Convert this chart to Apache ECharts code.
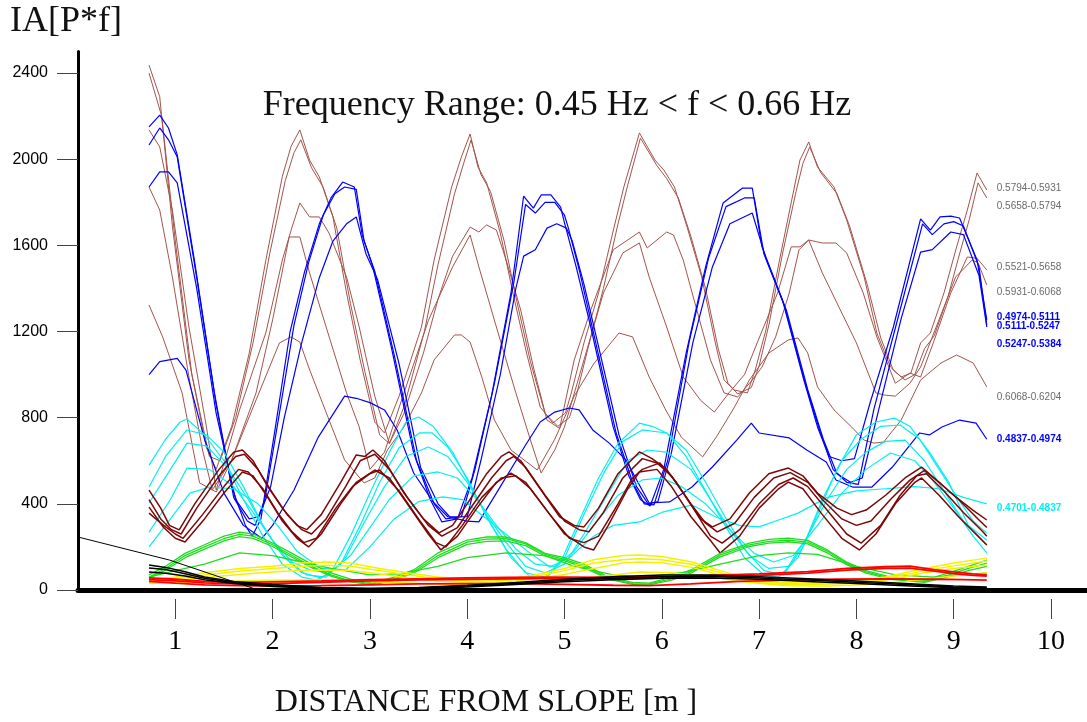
<!DOCTYPE html>
<html><head><meta charset="utf-8">
<script src="https://cdn.jsdelivr.net/npm/echarts@6/dist/echarts.min.js"></script>
<style>html,body{margin:0;padding:0;background:#fff}#c{width:1087px;height:722px}</style>
</head><body><div id="c"></div>
<script>
// ---- tick labels ----
const xTicks=[1,2,3,4,5,6,7,8,9,10];
const yTicks=[0,400,800,1200,1600,2000,2400];
// ---- series names ----
const brownNames=['0.5794-0.5931','0.5658-0.5794','0.5521-0.5658','0.5931-0.6068','0.6068-0.6204'];
const blueNames=['0.4974-0.5111','0.5111-0.5247','0.5247-0.5384','0.4837-0.4974'];
const cyanLabelName='0.4701-0.4837';
// ---- brown series [distance m, IA] ----
const brownA=[[0.73,2437],[0.84,2290],[0.97,1690],[1.14,1070],[1.32,660],[1.42,560],[1.58,760],[1.76,1100],[1.93,1530],[2.10,1920],[2.19,2060],[2.28,2136],[2.38,1996],[2.48,1918],[2.62,1732],[2.76,1379],[2.90,1068],[3.05,780],[3.15,729],[3.30,900],[3.53,1221],[3.66,1532],[3.84,1871],[3.94,2010],[4.03,2117],[4.11,1964],[4.2,1890],[4.34,1657],[4.47,1379],[4.61,1100],[4.75,850],[4.88,775],[5.01,822],[5.07,915],[5.2,1147],[5.35,1379],[5.51,1685],[5.61,1871],[5.72,2043],[5.77,2122],[5.93,1996],[6.02,1950],[6.13,1871],[6.26,1685],[6.41,1453],[6.55,1147],[6.64,975],[6.74,929],[6.88,915],[6.96,1021],[7.07,1207],[7.21,1532],[7.35,1843],[7.42,1996],[7.51,2080],[7.6,1964],[7.77,1871],[7.9,1718],[8.08,1453],[8.21,1193],[8.35,1035],[8.46,989],[8.56,1007],[8.66,1147],[8.76,1193],[8.90,1379],[9.03,1593],[9.14,1764],[9.24,1936],[9.34,1857]];
const brownB=[[0.73,2400],[0.86,2200],[1.0,1620],[1.17,1000],[1.35,620],[1.46,600],[1.62,800],[1.8,1150],[1.97,1560],[2.13,1900],[2.22,2030],[2.29,2090],[2.4,1960],[2.52,1870],[2.66,1680],[2.8,1330],[2.95,1010],[3.1,720],[3.2,680],[3.35,850],[3.56,1200],[3.7,1510],[3.87,1840],[3.97,1990],[4.04,2089],[4.14,1930],[4.24,1850],[4.38,1620],[4.51,1340],[4.65,1060],[4.8,820],[4.93,760],[5.05,800],[5.12,900],[5.24,1120],[5.4,1400],[5.55,1700],[5.65,1880],[5.74,2030],[5.78,2098],[5.95,1970],[6.05,1910],[6.17,1820],[6.3,1640],[6.45,1400],[6.58,1120],[6.68,960],[6.78,910],[6.92,940],[7.0,1040],[7.1,1230],[7.24,1560],[7.38,1850],[7.45,1980],[7.52,2057],[7.63,1940],[7.8,1840],[7.93,1690],[8.11,1420],[8.25,1170],[8.38,1020],[8.5,975],[8.6,1000],[8.7,1120],[8.8,1180],[8.94,1360],[9.06,1560],[9.16,1720],[9.25,1890],[9.34,1820]];
const brownC=[[0.73,2136],[0.84,2057],[0.97,1764],[1.14,1221],[1.32,757],[1.42,464],[1.66,836],[1.93,1193],[2.1,1532],[2.2,1685],[2.28,1797],[2.38,1732],[2.48,1732],[2.58,1657],[2.76,1453],[2.89,1221],[3.05,900],[3.2,680],[3.35,820],[3.55,1100],[3.7,1350],[3.85,1550],[4.03,1685],[4.12,1662],[4.2,1695],[4.3,1671],[4.4,1532],[4.55,1300],[4.68,1035],[4.82,789],[4.95,750],[5.1,1068],[5.27,1300],[5.5,1579],[5.77,1662],[5.85,1588],[6.05,1662],[6.12,1648],[6.22,1532],[6.36,1300],[6.5,1068],[6.64,915],[6.78,896],[6.93,975],[7.03,1035],[7.17,1175],[7.31,1379],[7.41,1579],[7.51,1625],[7.65,1611],[7.79,1611],[7.9,1565],[8.07,1379],[8.21,1175],[8.4,960],[8.55,1007],[8.66,989],[8.79,1147],[8.97,1379],[9.14,1546],[9.24,1540],[9.34,1486]];
const brownD=[[0.73,1871],[0.84,1764],[0.97,1453],[1.14,989],[1.28,650],[1.38,464],[1.58,604],[1.83,915],[2.0,1254],[2.17,1639],[2.28,1639],[2.38,1472],[2.55,1221],[2.76,915],[2.89,757],[3.0,560],[3.15,640],[3.35,915],[3.6,1250],[3.85,1500],[4.03,1648],[4.12,1500],[4.3,1221],[4.5,915],[4.66,682],[4.76,543],[4.9,650],[5.0,757],[5.2,1068],[5.4,1379],[5.6,1565],[5.77,1611],[5.87,1453],[6.05,1221],[6.22,989],[6.4,880],[6.54,826],[6.69,915],[6.85,1000],[6.98,1147],[7.19,1379],[7.33,1593],[7.42,1593],[7.51,1625],[7.65,1472],[7.82,1314],[8.0,1147],[8.2,915],[8.29,905],[8.4,900],[8.55,960],[8.66,1035],[8.82,1221],[9.02,1453],[9.19,1532],[9.25,1520],[9.34,1416]];
const brownE=[[0.73,1323],[0.87,1175],[1.07,915],[1.25,497],[1.42,455],[1.58,604],[1.83,882],[2.07,1147],[2.19,1175],[2.28,1151],[2.37,1035],[2.54,836],[2.74,604],[2.94,497],[3.05,520],[3.18,650],[3.35,757],[3.53,915],[3.66,1068],[3.87,1184],[3.94,1184],[4.03,1151],[4.15,989],[4.28,789],[4.45,650],[4.72,557],[4.9,700],[5.1,900],[5.3,1050],[5.56,1193],[5.7,1175],[5.87,989],[6.04,836],[6.2,710],[6.42,618],[6.56,710],[6.73,836],[6.9,975],[7.1,1100],[7.3,1161],[7.4,1170],[7.5,1100],[7.6,943],[7.77,836],[7.95,757],[8.08,696],[8.18,682],[8.28,687],[8.46,789],[8.66,975],[8.87,1054],[9.03,1091],[9.2,1054],[9.34,943]];
// ---- blue series ----
const blue1=[[0.73,2150],[0.84,2205],[0.93,2145],[1.02,2020],[1.2,1520],[1.4,920],[1.58,480],[1.72,300],[1.79,250],[1.88,330],[2.03,760],[2.18,1200],[2.33,1480],[2.48,1700],[2.6,1820],[2.72,1894],[2.84,1871],[2.92,1650],[3.03,1500],[3.22,1128],[3.45,636],[3.62,420],[3.74,316],[3.9,330],[4.05,520],[4.25,900],[4.45,1379],[4.58,1829],[4.68,1773],[4.76,1834],[4.86,1834],[4.96,1778],[5.0,1704],[5.12,1500],[5.27,1221],[5.5,757],[5.66,530],[5.78,420],[5.88,390],[6.02,560],[6.25,1100],[6.45,1500],[6.63,1797],[6.83,1866],[6.93,1866],[7.03,1593],[7.24,1346],[7.46,975],[7.6,757],[7.72,620],[7.85,600],[7.98,610],[8.14,868],[8.38,1221],[8.66,1723],[8.76,1671],[8.86,1732],[8.97,1736],[9.06,1727],[9.24,1532],[9.34,1254]];
const blue2=[[0.73,2066],[0.84,2145],[0.93,2090],[1.02,2010],[1.22,1450],[1.42,860],[1.6,430],[1.74,320],[1.82,300],[1.92,420],[2.07,820],[2.22,1230],[2.37,1520],[2.52,1740],[2.64,1840],[2.74,1871],[2.86,1860],[2.94,1620],[3.05,1480],[3.25,1090],[3.48,600],[3.66,400],[3.78,330],[3.94,340],[4.08,560],[4.28,960],[4.48,1430],[4.6,1790],[4.7,1750],[4.8,1800],[4.9,1800],[5.0,1740],[5.04,1680],[5.16,1470],[5.3,1190],[5.53,730],[5.7,500],[5.82,400],[5.92,395],[6.06,600],[6.28,1150],[6.48,1540],[6.66,1780],[6.85,1820],[6.95,1820],[7.05,1560],[7.26,1320],[7.48,950],[7.63,730],[7.76,560],[7.9,500],[8.02,490],[8.18,840],[8.42,1250],[8.68,1700],[8.78,1650],[8.9,1700],[9.0,1710],[9.1,1690],[9.26,1500],[9.34,1230]];
const blue3=[[0.73,1871],[0.84,1941],[0.93,1941],[1.02,1890],[1.22,1400],[1.42,820],[1.62,420],[1.76,330],[1.86,340],[1.98,480],[2.12,800],[2.3,1150],[2.48,1450],[2.62,1620],[2.76,1700],[2.86,1732],[2.96,1560],[3.08,1440],[3.3,1050],[3.52,570],[3.7,400],[3.82,340],[4.0,340],[4.14,600],[4.34,1000],[4.5,1400],[4.58,1550],[4.7,1580],[4.82,1680],[4.92,1700],[5.02,1680],[5.08,1620],[5.2,1420],[5.34,1150],[5.56,720],[5.74,480],[5.86,400],[5.96,410],[6.1,640],[6.32,1150],[6.52,1500],[6.7,1700],[6.93,1750],[7.07,1540],[7.28,1300],[7.5,930],[7.66,700],[7.8,540],[7.94,500],[8.06,520],[8.22,820],[8.46,1260],[8.66,1569],[8.78,1580],[8.97,1662],[9.1,1650],[9.26,1460],[9.34,1221]];
const blue4=[[0.73,1000],[0.84,1060],[1.02,1075],[1.11,1021],[1.3,700],[1.5,450],[1.7,300],[1.89,240],[2.0,300],[2.22,464],[2.47,710],[2.74,900],[2.86,890],[3.0,870],[3.15,836],[3.28,743],[3.45,543],[3.65,409],[3.8,340],[4.0,320],[4.12,316],[4.3,450],[4.6,673],[4.75,780],[4.9,826],[5.05,845],[5.15,836],[5.29,743],[5.46,682],[5.63,604],[5.87,404],[6.08,409],[6.31,478],[6.52,571],[6.77,696],[6.92,775],[7.0,729],[7.31,706],[7.49,650],[7.69,594],[7.79,511],[7.96,478],[8.16,478],[8.37,571],[8.65,729],[8.75,720],[8.88,757],[9.06,789],[9.23,775],[9.34,700]];
// ---- cyan series ----
const cyanA=[[0.73,580],[0.9,700],[1.05,780],[1.12,794],[1.3,720],[1.5,600],[1.7,420],[1.9,250],[2.1,120],[2.3,60],[2.45,46],[2.6,80],[2.8,250],[3.0,450],[3.2,640],[3.37,780],[3.5,803],[3.65,760],[3.85,640],[4.05,470],[4.25,300],[4.45,150],[4.65,60],[4.8,50],[4.95,120],[5.15,320],[5.35,520],[5.55,680],[5.77,775],[5.9,760],[6.05,729],[6.25,620],[6.45,460],[6.65,300],[6.85,150],[7.05,70],[7.2,60],[7.4,150],[7.6,350],[7.8,560],[8.0,720],[8.2,780],[8.39,798],[8.55,760],[8.75,640],[8.95,500],[9.15,300],[9.34,232]];
const cyanB=[[0.73,478],[0.9,620],[1.12,743],[1.32,720],[1.5,640],[1.7,480],[1.9,300],[2.1,160],[2.3,80],[2.5,56],[2.7,120],[2.9,300],[3.1,500],[3.3,660],[3.51,729],[3.64,729],[3.8,664],[4.0,520],[4.2,340],[4.4,190],[4.6,80],[4.8,60],[5.0,150],[5.2,350],[5.4,540],[5.6,690],[5.8,743],[6.05,729],[6.25,650],[6.45,500],[6.65,340],[6.85,190],[7.05,90],[7.25,70],[7.45,200],[7.65,420],[7.85,600],[8.05,700],[8.25,760],[8.45,766],[8.65,700],[8.85,560],[9.05,420],[9.2,320],[9.34,264]];
const cyanC=[[0.73,404],[0.95,560],[1.12,682],[1.32,669],[1.55,560],[1.75,420],[1.95,260],[2.15,140],[2.35,70],[2.55,60],[2.75,150],[2.95,320],[3.15,480],[3.37,620],[3.6,664],[3.8,620],[4.0,500],[4.2,350],[4.4,220],[4.6,110],[4.8,80],[5.0,120],[5.2,260],[5.45,450],[5.65,600],[5.85,650],[6.05,640],[6.3,560],[6.5,420],[6.7,280],[6.9,160],[7.1,100],[7.3,110],[7.5,250],[7.7,420],[7.9,560],[8.1,640],[8.3,690],[8.5,696],[8.7,600],[8.9,460],[9.1,320],[9.34,209]];
const cyanD=[[0.73,269],[0.95,420],[1.12,566],[1.35,560],[1.6,480],[1.8,360],[2.0,230],[2.2,130],[2.4,90],[2.6,84],[2.8,160],[3.0,290],[3.2,420],[3.45,530],[3.7,548],[3.9,520],[4.1,420],[4.3,300],[4.5,190],[4.7,120],[4.9,110],[5.1,180],[5.3,300],[5.55,440],[5.8,511],[6.0,520],[6.2,480],[6.45,400],[6.7,280],[6.95,170],[7.15,130],[7.35,160],[7.6,300],[7.85,450],[8.1,560],[8.35,636],[8.6,600],[8.8,500],[9.0,380],[9.2,250],[9.34,172]];
const cyanE=[[0.73,200],[0.95,330],[1.15,450],[1.35,478],[1.6,470],[1.85,400],[2.05,300],[2.25,180],[2.5,100],[2.75,93],[3.0,200],[3.25,330],[3.5,410],[3.75,432],[3.95,420],[4.2,330],[4.45,240],[4.65,170],[4.85,107],[5.05,150],[5.3,250],[5.5,300],[5.77,316],[6.0,360],[6.31,395],[6.55,340],[6.8,300],[7.0,293],[7.2,325],[7.4,357],[7.7,430],[8.0,460],[8.3,470],[8.6,480],[8.85,470],[9.1,430],[9.34,400]];
// ---- maroon series ----
const maroon1=[[0.73,464],[0.85,380],[0.94,300],[1.04,279],[1.2,400],[1.45,560],[1.6,640],[1.69,650],[1.8,600],[1.95,480],[2.1,380],[2.25,300],[2.35,280],[2.5,350],[2.7,500],[2.86,627],[2.95,620],[3.03,650],[3.15,600],[3.35,450],[3.55,330],[3.71,265],[3.85,300],[4.0,400],[4.2,540],[4.35,620],[4.43,641],[4.55,600],[4.75,470],[4.95,340],[5.1,300],[5.2,293],[5.35,380],[5.55,540],[5.77,641],[5.9,610],[6.05,560],[6.25,430],[6.4,330],[6.52,293],[6.7,330],[6.9,450],[7.1,540],[7.3,566],[7.45,530],[7.6,450],[7.8,380],[7.95,350],[8.1,371],[8.3,440],[8.5,520],[8.67,571],[8.8,520],[9.0,440],[9.2,370],[9.34,325]];
const maroon2=[[0.73,420],[0.85,330],[0.96,280],[1.06,260],[1.22,380],[1.45,530],[1.62,620],[1.71,630],[1.85,560],[2.0,450],[2.15,350],[2.3,280],[2.4,260],[2.55,330],[2.75,480],[2.9,600],[3.05,630],[3.2,560],[3.4,420],[3.6,300],[3.74,250],[3.9,290],[4.05,390],[4.25,520],[4.4,600],[4.48,620],[4.6,570],[4.8,440],[5.0,320],[5.15,280],[5.25,270],[5.4,360],[5.6,520],[5.8,610],[5.95,590],[6.1,530],[6.3,400],[6.45,310],[6.57,270],[6.75,310],[6.95,430],[7.15,520],[7.32,545],[7.5,500],[7.65,420],[7.85,330],[8.0,300],[8.15,320],[8.35,420],[8.55,510],[8.7,555],[8.85,500],[9.05,420],[9.25,330],[9.34,290]];
const maroon3=[[0.73,385],[0.88,290],[1.0,240],[1.1,223],[1.3,330],[1.5,450],[1.69,548],[1.8,530],[1.95,430],[2.1,320],[2.25,240],[2.37,200],[2.5,260],[2.7,400],[2.86,500],[3.05,557],[3.2,520],[3.4,390],[3.6,260],[3.73,186],[3.9,250],[4.1,380],[4.3,500],[4.45,543],[4.6,500],[4.8,380],[5.0,260],[5.2,200],[5.3,186],[5.45,300],[5.65,470],[5.77,548],[5.95,560],[6.1,480],[6.3,340],[6.5,230],[6.6,172],[6.8,250],[7.0,380],[7.2,470],[7.3,501],[7.45,470],[7.65,350],[7.85,240],[8.03,186],[8.2,260],[8.4,400],[8.6,500],[8.67,520],[8.85,440],[9.05,340],[9.25,250],[9.34,209]];
const maroon4=[[0.73,357],[0.88,300],[1.0,260],[1.08,240],[1.28,350],[1.5,480],[1.65,560],[1.75,548],[1.9,470],[2.05,360],[2.2,270],[2.32,220],[2.45,240],[2.65,380],[2.82,480],[3.0,540],[3.1,557],[3.3,460],[3.5,330],[3.68,220],[3.78,200],[3.95,300],[4.15,430],[4.35,520],[4.5,530],[4.65,470],[4.85,350],[5.05,240],[5.2,220],[5.35,250],[5.55,400],[5.7,520],[5.8,560],[5.98,590],[6.15,500],[6.35,360],[6.5,250],[6.62,218],[6.8,280],[7.0,400],[7.2,490],[7.35,520],[7.5,480],[7.7,370],[7.9,260],[8.05,218],[8.25,300],[8.45,440],[8.62,530],[8.72,540],[8.9,460],[9.1,360],[9.3,270],[9.34,250]];
// ---- green series ----
const green1=[[0.73,70],[0.9,110],[1.1,170],[1.3,210],[1.5,250],[1.66,269],[1.8,260],[2.0,218],[2.2,170],[2.4,120],[2.6,80],[2.8,50],[3.03,32],[3.25,60],[3.45,93],[3.7,172],[4.0,232],[4.2,246],[4.4,246],[4.6,220],[4.8,170],[5.0,150],[5.2,120],[5.45,60],[5.7,35],[5.87,32],[6.1,60],[6.3,93],[6.6,170],[6.9,218],[7.1,235],[7.3,241],[7.5,230],[7.7,186],[7.9,130],[8.1,90],[8.35,60],[8.7,46],[8.95,80],[9.15,110],[9.34,139]];
const green2=[[0.73,60],[0.9,100],[1.1,160],[1.3,200],[1.5,238],[1.66,258],[1.8,250],[2.0,210],[2.2,160],[2.4,110],[2.6,70],[2.8,42],[3.03,28],[3.25,52],[3.45,85],[3.7,160],[4.0,222],[4.2,236],[4.4,238],[4.6,214],[4.8,165],[5.0,142],[5.2,112],[5.45,55],[5.7,30],[5.87,28],[6.1,52],[6.3,85],[6.6,162],[6.9,210],[7.1,226],[7.3,232],[7.5,222],[7.7,180],[7.9,124],[8.1,84],[8.35,55],[8.7,40],[8.95,70],[9.15,100],[9.34,125]];
const green3=[[0.73,55],[0.9,92],[1.1,150],[1.3,190],[1.5,228],[1.66,248],[1.8,240],[2.0,202],[2.2,152],[2.4,104],[2.6,64],[2.8,38],[3.03,24],[3.25,46],[3.45,78],[3.7,150],[4.0,212],[4.2,226],[4.4,228],[4.6,206],[4.8,158],[5.0,135],[5.2,105],[5.45,50],[5.7,26],[5.87,24],[6.1,46],[6.3,78],[6.6,154],[6.9,202],[7.1,218],[7.3,224],[7.5,214],[7.7,172],[7.9,118],[8.1,78],[8.35,50],[8.7,35],[8.95,62],[9.15,90],[9.34,110]];
const green4=[[0.73,60],[1.0,90],[1.3,120],[1.66,172],[2.0,160],[2.3,130],[2.6,100],[3.0,70],[3.3,75],[3.7,110],[4.0,150],[4.4,172],[4.8,160],[5.1,110],[5.5,70],[5.87,60],[6.2,80],[6.6,120],[7.0,160],[7.3,172],[7.6,165],[8.0,110],[8.4,70],[8.8,60],[9.1,70],[9.34,79]];
// ---- yellow series ----
const yellow1=[[0.73,46],[1.0,60],[1.3,80],[1.66,100],[2.0,110],[2.3,125],[2.55,130],[2.8,125],[3.1,100],[3.4,79],[3.7,60],[4.1,46],[4.4,50],[4.7,70],[5.0,100],[5.3,140],[5.6,160],[5.77,162],[6.0,155],[6.31,130],[6.6,90],[6.9,50],[7.2,35],[7.5,32],[7.9,40],[8.3,60],[8.7,100],[9.0,125],[9.34,148]];
const yellow2=[[0.73,40],[1.0,52],[1.3,70],[1.66,88],[2.0,100],[2.3,110],[2.55,115],[2.8,110],[3.1,90],[3.4,70],[3.7,52],[4.1,40],[4.4,44],[4.7,62],[5.0,90],[5.3,125],[5.6,140],[5.77,145],[6.0,140],[6.31,118],[6.6,80],[6.9,45],[7.2,30],[7.5,28],[7.9,34],[8.3,52],[8.7,90],[9.0,112],[9.34,135]];
const yellow3=[[0.73,35],[1.0,45],[1.3,58],[1.66,72],[2.0,84],[2.3,92],[2.55,93],[2.8,90],[3.1,74],[3.4,56],[3.7,42],[4.1,32],[4.4,36],[4.7,52],[5.0,72],[5.3,100],[5.6,125],[5.77,130],[6.0,126],[6.31,105],[6.6,70],[6.9,40],[7.2,26],[7.5,24],[7.9,30],[8.3,46],[8.7,80],[9.0,100],[9.34,116]];
const yellow4=[[0.73,30],[1.0,35],[1.5,42],[2.0,45],[2.55,46],[3.0,40],[3.5,30],[4.0,25],[4.5,30],[5.0,45],[5.5,70],[5.77,84],[6.1,80],[6.5,60],[6.9,35],[7.3,20],[7.7,18],[8.1,25],[8.5,40],[8.9,60],[9.34,80]];
// ---- red series ----
const red1=[[0.73,56],[1.0,50],[1.3,40],[1.66,35],[2.0,38],[2.5,42],[3.0,48],[3.5,52],[4.0,56],[4.43,58],[5.0,60],[5.5,58],[6.0,62],[6.5,68],[7.0,75],[7.5,85],[7.9,100],[8.3,108],[8.55,111],[8.8,95],[9.0,84],[9.2,75],[9.34,70]];
const red2=[[0.73,48],[1.0,42],[1.3,33],[1.66,28],[2.0,30],[2.5,36],[3.0,42],[3.5,47],[4.0,50],[4.43,52],[5.0,54],[5.5,52],[6.0,56],[6.5,62],[7.0,68],[7.5,78],[7.9,92],[8.3,100],[8.55,102],[8.8,88],[9.0,76],[9.2,68],[9.34,65]];
const red3=[[0.73,40],[1.0,32],[1.3,24],[1.66,20],[2.0,18],[2.5,20],[3.0,24],[3.5,28],[4.0,30],[4.5,30],[5.0,26],[5.5,22],[5.87,20],[6.3,28],[6.8,40],[7.3,46],[7.8,50],[8.3,52],[8.8,50],[9.1,48],[9.34,46]];
// ---- black series ----
const black1=[[0.73,116],[0.9,105],[1.1,85],[1.3,60],[1.6,40],[2.0,25],[2.5,12],[3.0,8],[3.5,12],[4.0,22],[4.5,35],[5.0,50],[5.5,62],[6.0,70],[6.5,70],[7.0,62],[7.5,52],[8.0,42],[8.5,30],[9.0,18],[9.34,14]];
const black2=[[0.73,102],[0.9,95],[1.1,75],[1.3,55],[1.6,35],[2.0,20],[2.5,9],[3.0,5],[3.5,9],[4.0,18],[4.5,30],[5.0,44],[5.5,55],[6.0,62],[6.5,63],[7.0,56],[7.5,46],[8.0,36],[8.5,25],[9.0,14],[9.34,10]];
const black3=[[0.73,84],[0.9,78],[1.1,65],[1.3,48],[1.6,30],[2.0,16],[2.5,6],[3.0,3],[3.5,6],[4.0,14],[4.5,25],[5.0,38],[5.5,48],[6.0,55],[6.5,56],[7.0,50],[7.5,40],[8.0,30],[8.5,20],[9.0,10],[9.34,6]];
const blackDiag=[[0,246],[0.94,139],[1.8,8]];

// ---- styling ----
const BROWN='#a3544c', BLUE='#0000ff', CYAN='#00f0f0', MAROON='#7d0606', GREEN='#1fdc1f', YELLOW='#f2f200', RED='#ff0000', BLACK='#000000';
function line(name,data,color,width,lab){
  const s={type:'line',name:name,data:data,xAxisIndex:0,yAxisIndex:0,symbol:'none',showSymbol:false,
    lineStyle:{color:color,width:width},itemStyle:{color:color},silent:true,animation:false};
  if(lab){s.endLabel={show:true,formatter:name,color:lab.color,fontSize:10,fontWeight:lab.bold?'bold':'normal',
    fontFamily:'Liberation Sans',distance:10,offset:[0,lab.dy]};}
  return s;
}
const GRAYLAB='#6a6a6a';
const series=[
  line(brownNames[0],brownA,BROWN,1,{color:GRAYLAB,dy:-2}),
  line(brownNames[1],brownB,BROWN,1,{color:GRAYLAB,dy:8}),
  line(brownNames[2],brownC,BROWN,1,{color:GRAYLAB,dy:-3}),
  line(brownNames[3],brownD,BROWN,1,{color:GRAYLAB,dy:7}),
  line(brownNames[4],brownE,BROWN,1,{color:GRAYLAB,dy:10}),
  line(blueNames[0],blue1,BLUE,1.2,{color:BLUE,dy:-3,bold:true}),
  line(blueNames[1],blue2,BLUE,1.2,{color:BLUE,dy:1,bold:true}),
  line(blueNames[2],blue3,BLUE,1.2,{color:BLUE,dy:17,bold:true}),
  line(blueNames[3],blue4,BLUE,1.2,{color:BLUE,dy:0,bold:true}),
  line('c1',cyanA,CYAN,1.2),
  line('c2',cyanB,CYAN,1.2),
  line('c3',cyanC,CYAN,1.2),
  line('c4',cyanD,CYAN,1.2),
  line(cyanLabelName,cyanE,CYAN,1.2,{color:CYAN,dy:4,bold:true}),
  line('m1',maroon1,MAROON,1.5),
  line('m2',maroon2,MAROON,1.5),
  line('m3',maroon3,MAROON,1.5),
  line('m4',maroon4,MAROON,1.5),
  line('g1',green1,GREEN,1.3),
  line('g2',green2,GREEN,1.3),
  line('g3',green3,GREEN,1.3),
  line('g4',green4,GREEN,1.3),
  line('y1',yellow1,YELLOW,1.5),
  line('y2',yellow2,YELLOW,1.5),
  line('y3',yellow3,YELLOW,1.5),
  line('y4',yellow4,YELLOW,1.5),
  line('r1',red1,RED,1.8),
  line('r2',red2,RED,1.8),
  line('r3',red3,RED,1.8),
  line('k1',black1,BLACK,1.5),
  line('k2',black2,BLACK,1.5),
  line('k3',black3,BLACK,1.5),
  line('kd',blackDiag,BLACK,1)
];

const chart=echarts.init(document.getElementById('c'),null,{renderer:'canvas'});
chart.setOption({
  animation:false,
  backgroundColor:'#ffffff',
  grid:{left:78,right:0,top:51.5,bottom:132},
  xAxis:[
    {type:'value',min:0,max:10.37,position:'bottom',
     axisLine:{show:true,onZero:false,lineStyle:{color:'#000',width:5}},
     axisTick:{show:false},axisLabel:{show:false},splitLine:{show:false}},
    {type:'value',min:0,max:10.37,position:'bottom',offset:9,
     axisLine:{show:false,onZero:false},
     axisTick:{show:true,length:20,customValues:xTicks,lineStyle:{color:'#444',width:1}},
     axisLabel:{show:true,customValues:xTicks,margin:29,color:'#000',fontSize:28,fontFamily:'Liberation Serif',formatter:function(v){return String(v);}},
     splitLine:{show:false}}
  ],
  yAxis:{type:'value',min:0,max:2500,
    axisLine:{show:true,lineStyle:{color:'#000',width:3}},
    axisTick:{show:true,length:21,customValues:yTicks,lineStyle:{color:'#444',width:1}},
    axisLabel:{show:true,customValues:yTicks,margin:30,color:'#000',fontSize:16,fontFamily:'Liberation Sans',formatter:function(v){return String(v);}},
    splitLine:{show:false}},
  graphic:[
    {type:'text',x:557,y:106,style:{text:'Frequency Range: 0.45 Hz < f < 0.66 Hz',fontSize:36,fontFamily:'Liberation Serif',fill:'#111',align:'center',verticalAlign:'middle'}},
    {type:'text',x:10,y:22,style:{text:'IA[P*f]',fontSize:36,fontFamily:'Liberation Serif',fill:'#111',align:'left',verticalAlign:'middle'}},
    {type:'text',x:486,y:703,style:{text:'DISTANCE FROM SLOPE [m ]',fontSize:32,fontFamily:'Liberation Serif',fill:'#111',align:'center',verticalAlign:'middle'}}
  ],
  series:series
});
</script>
</body></html>
